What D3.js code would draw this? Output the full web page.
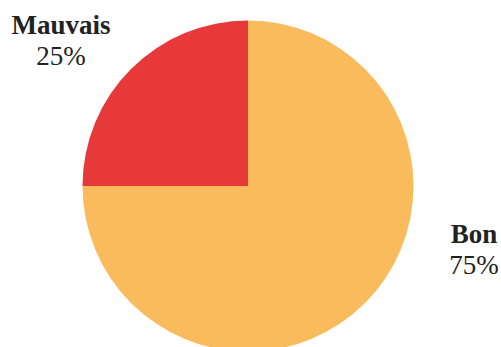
<!DOCTYPE html>
<html>
<head>
<meta charset="utf-8">
<script src="https://cdn.jsdelivr.net/npm/d3@7"></script>
<style>
  html, body { margin: 0; padding: 0; background: #fff; }
  svg { display: block; }
  .label text { font-family: "Liberation Serif", "Times New Roman", Times, serif; }
</style>
</head>
<body>
<div id="chart"></div>
<script>
(function (d3) {
	'use strict';

	// DATA
	const categories = ["Mauvais", "Bon"];
	const values = [25, 75];
	const colors = ["#e8393a", "#f9bb5c"];

	const width = 501;
	const height = 347;
	const cx = 248;
	const cy = 186;
	const radius = 165.5;

	const svg = d3.select("#chart").append("svg")
		.attr("width", width)
		.attr("height", height);

	const g = svg.append("g")
		.attr("transform", `translate(${cx},${cy})`);

	// start at 270deg so the small slice sits in the upper-left quadrant
	const pie = d3.pie()
		.sort(null)
		.startAngle(-Math.PI / 2)
		.endAngle(Math.PI * 1.5)
		.value(d => d.value);

	const arc = d3.arc().innerRadius(0).outerRadius(radius);

	const data = categories.map((c, i) => ({ name: c, value: values[i], color: colors[i] }));
	const arcs = pie(data);

	g.selectAll("path.slice").data(arcs)
		.enter().append("path")
		.attr("class", "slice")
		.attr("d", arc)
		.attr("fill", d => d.data.color);

	// label placement (angle from 12 o'clock, distance from centre)
	const labelPos = {
		"Mauvais": { angle: -53.8 * Math.PI / 180, dist: radius * 1.401 },
		"Bon": { angle: 107.7 * Math.PI / 180, dist: radius * 1.433 }
	};

	const total = d3.sum(values);
	const labels = g.selectAll("g.label").data(arcs)
		.enter().append("g")
		.attr("class", "label")
		.attr("transform", d => {
			const p = labelPos[d.data.name];
			const [x, y] = d3.pointRadial(p.angle, p.dist);
			return `translate(${x},${y})`;
		})
		.attr("font-size", 27)
		.attr("fill", "#222")
		.attr("text-anchor", "middle");

	labels.append("text")
		.attr("y", -15)
		.attr("font-weight", "bold")
		.text(d => d.data.name);

	labels.append("text")
		.attr("y", 16)
		.text(d => Math.round(d.data.value / total * 100) + "%");
}(d3));
</script>
</body>
</html>
